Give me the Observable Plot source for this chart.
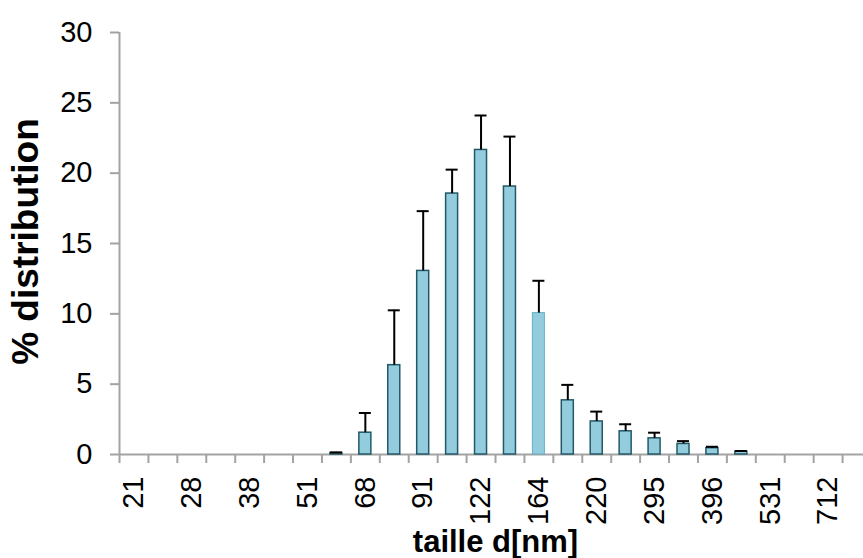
<!DOCTYPE html>
<html>
<head>
<meta charset="utf-8">
<script src="https://cdn.jsdelivr.net/npm/d3@7"></script>
<script src="https://cdn.jsdelivr.net/npm/@observablehq/plot@0.6"></script>
<style>
  html, body { margin: 0; padding: 0; background: #fff; overflow: hidden; }
  #chart svg { display: block; }
</style>
</head>
<body>
<div id="chart"></div>
<script>
// Size classes (nm); only every other class is labelled on the axis
const sizes = ["21","24","28","33","38","44","51","59","68","79","91","106","122","142","164","190","220","255","295","342","396","459","531","615","712","825"];
// Mean % distribution per size class
const means = [0,0,0,0,0,0,0,0.1,1.55,6.35,13.05,18.55,21.65,19.05,10.05,3.85,2.35,1.65,1.15,0.75,0.45,0.2,0,0,0,0];
// Upper error (standard deviation) per size class
const errors = [0,0,0,0,0,0,0,0.05,1.4,3.9,4.25,1.7,2.45,3.55,2.3,1.1,0.7,0.5,0.4,0.2,0.1,0.05,0,0,0,0];
const yTicks = [0,5,10,15,20,25,30];
const labelledSizes = sizes.filter((d, i) => i % 2 === 0);
const highlightSize = "164";
const xTitle = "taille d[nm]";
const yTitle = "% distribution";

const data = sizes.map((size, i) => ({size, mean: means[i], err: errors[i]}));
const bars = data.filter(d => d.mean > 0 && d.size !== highlightSize);
const barsHi = data.filter(d => d.mean > 0 && d.size === highlightSize);
const withErr = data.filter(d => d.err > 0);

const rangeX = [119, 871];
const step = (rangeX[1] - rangeX[0]) / sizes.length;
const font = '"Liberation Sans", Arial, Helvetica, sans-serif';
const grey = "#a3a3a3";

const chart = Plot.plot({
  width: 863,
  height: 558,
  marginLeft: 119,
  marginRight: 0,
  marginTop: 32,
  marginBottom: 104,
  style: {fontFamily: font, fontSize: "29px", color: "#000", background: "#fff", overflow: "hidden"},
  x: {domain: sizes, range: rangeX, paddingInner: 0.585, paddingOuter: 0.2925, round: false, label: null},
  y: {domain: [0, 30], label: null},
  marks: [
    Plot.ruleY([0], {stroke: grey, strokeWidth: 2}),
    Plot.ruleX([sizes[0]], {y1: 0, y2: 30, dx: -step / 2, stroke: grey, strokeWidth: 2}),
    Plot.axisX(sizes, {tickSize: 9, dx: -step / 2, stroke: grey, strokeWidth: 2, tickFormat: () => "", label: null}),
    Plot.axisX(labelledSizes, {tickSize: 0, tickPadding: 22, tickRotate: -90, fontSize: 29, fill: "#000", label: null}),
    Plot.axisY(yTicks, {tickSize: 9, tickPadding: 18, stroke: grey, strokeWidth: 2, fontSize: 29, fill: "#000", label: null}),
    Plot.barY(bars, {x: "size", y: "mean", fill: "#93cddd", stroke: "#215968", strokeWidth: 1.5}),
    Plot.barY(barsHi, {x: "size", y: "mean", fill: "#93cddd", stroke: "#5fb2c8", strokeWidth: 1}),
    Plot.ruleX(withErr, {x: "size", y1: "mean", y2: d => d.mean + d.err, stroke: "#000", strokeWidth: 2}),
    Plot.tickY(withErr, {x: "size", y: d => d.mean + d.err, stroke: "#000", strokeWidth: 2}),
    Plot.text([yTitle], {text: d => d, frameAnchor: "left", textAnchor: "middle", lineAnchor: "middle", rotate: -90, dx: -93, dy: -2, fontSize: 37, fontWeight: "bold", fill: "#000"}),
    Plot.text([xTitle], {text: d => d, frameAnchor: "bottom", textAnchor: "middle", lineAnchor: "middle", dx: 4, dy: 88, fontSize: 31, fontWeight: "bold", fill: "#000"})
  ]
});
document.getElementById("chart").appendChild(chart);
</script>
</body>
</html>
